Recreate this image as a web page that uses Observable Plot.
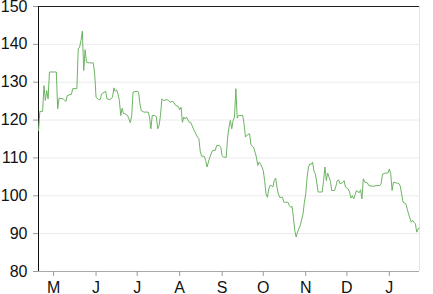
<!DOCTYPE html>
<html><head><meta charset="utf-8">
<script src="https://cdn.jsdelivr.net/npm/d3@7"></script>
<script src="https://cdn.jsdelivr.net/npm/@observablehq/plot@0.6"></script>
<style>body{margin:0;background:#fff}</style>
</head><body><div id="chart"></div>
<script>
const dates = [
"2014-04-20","2014-04-21","2014-04-23","2014-04-24","2014-04-25","2014-04-26","2014-04-27","2014-04-28",
"2014-05-02","2014-05-03","2014-05-04","2014-05-05","2014-05-08","2014-05-10","2014-05-11","2014-05-14",
"2014-05-15","2014-05-18","2014-05-19","2014-05-20","2014-05-21","2014-05-22","2014-05-23","2014-05-24",
"2014-05-25","2014-05-27","2014-05-30","2014-05-31","2014-06-01","2014-06-03","2014-06-04","2014-06-05",
"2014-06-08","2014-06-09","2014-06-11","2014-06-13","2014-06-14","2014-06-15","2014-06-16","2014-06-17",
"2014-06-18","2014-06-19","2014-06-20","2014-06-21","2014-06-22","2014-06-24","2014-06-25","2014-06-26",
"2014-06-27","2014-06-28","2014-07-01","2014-07-02","2014-07-03","2014-07-04","2014-07-06","2014-07-09",
"2014-07-10","2014-07-11","2014-07-12","2014-07-14","2014-07-15","2014-07-16","2014-07-17","2014-07-18",
"2014-07-19","2014-07-20","2014-07-23","2014-07-25","2014-07-27","2014-07-29","2014-07-31","2014-08-01",
"2014-08-02","2014-08-03","2014-08-04","2014-08-05","2014-08-06","2014-08-08","2014-08-09","2014-08-10",
"2014-08-11","2014-08-14","2014-08-15","2014-08-16","2014-08-17","2014-08-19","2014-08-20","2014-08-21",
"2014-08-22","2014-08-23","2014-08-25","2014-08-27","2014-08-28","2014-08-30","2014-08-31","2014-09-01",
"2014-09-02","2014-09-04","2014-09-05","2014-09-06","2014-09-07","2014-09-08","2014-09-09","2014-09-10",
"2014-09-11","2014-09-12","2014-09-13","2014-09-14","2014-09-16","2014-09-17","2014-09-18","2014-09-19",
"2014-09-21","2014-09-22","2014-09-24","2014-09-25","2014-09-26","2014-09-27","2014-09-28","2014-09-29",
"2014-09-30","2014-10-01","2014-10-02","2014-10-03","2014-10-04","2014-10-05","2014-10-06","2014-10-07",
"2014-10-08","2014-10-09","2014-10-10","2014-10-11","2014-10-12","2014-10-13","2014-10-15","2014-10-16",
"2014-10-17","2014-10-19","2014-10-20","2014-10-21","2014-10-22","2014-10-23","2014-10-24","2014-10-25",
"2014-10-26","2014-10-27","2014-10-28","2014-10-30","2014-10-31","2014-11-01","2014-11-02","2014-11-03",
"2014-11-04","2014-11-05","2014-11-06","2014-11-07","2014-11-08","2014-11-09","2014-11-10","2014-11-11",
"2014-11-13","2014-11-14","2014-11-15","2014-11-16","2014-11-17","2014-11-18","2014-11-19","2014-11-20",
"2014-11-22","2014-11-23","2014-11-24","2014-11-25","2014-11-26","2014-11-28","2014-11-29","2014-11-30",
"2014-12-02","2014-12-03","2014-12-04","2014-12-05","2014-12-06","2014-12-08","2014-12-10","2014-12-11",
"2014-12-12","2014-12-13","2014-12-14","2014-12-16","2014-12-17","2014-12-20","2014-12-23","2014-12-25",
"2014-12-26","2014-12-27","2014-12-29","2014-12-31","2015-01-01","2015-01-02","2015-01-03","2015-01-04",
"2015-01-07","2015-01-08","2015-01-09","2015-01-11","2015-01-13","2015-01-14","2015-01-15","2015-01-17",
"2015-01-18","2015-01-19","2015-01-20","2015-01-21","2015-01-22","2015-01-23"
];
const values = [
117.2,122.3,122.3,129.1,125.2,127.8,125.6,132.7,
132.7,132.7,123.0,125.8,125.6,124.9,126.5,126.8,
128.3,128.3,138.8,139.3,141.0,143.5,133.1,138.6,
135.3,135.1,135.1,132.2,126.0,125.4,125.4,126.9,
127.6,125.6,125.4,126.0,128.5,127.6,128.0,126.9,
125.2,121.2,123.1,121.7,121.7,121.2,120.3,119.3,
121.2,127.4,127.6,127.4,124.3,122.5,122.1,122.1,
120.8,117.7,121.2,121.2,120.8,117.7,118.6,121.2,
125.6,125.2,125.4,124.7,125.0,123.9,123.6,122.7,
123.4,119.4,120.8,120.3,120.8,119.4,119.4,118.6,
117.7,115.5,115.1,111.8,110.5,110.4,109.3,107.6,
108.9,110.2,112.0,112.0,113.3,113.3,112.8,110.6,
110.2,110.2,115.5,118.1,119.9,117.7,119.9,120.8,
128.3,120.5,121.2,121.2,121.2,119.0,115.5,116.0,
116.4,113.5,112.8,111.5,110.2,108.0,108.9,108.4,
107.6,106.7,104.0,100.5,99.6,101.8,102.7,102.7,
102.3,104.0,104.7,102.3,100.5,99.6,99.6,98.3,
98.3,98.3,97.4,97.0,97.2,94.3,90.8,89.1,
90.4,91.3,92.2,95.2,98.3,100.5,104.9,107.6,
108.4,108.3,108.9,106.5,105.8,103.6,101.0,101.0,
101.0,104.0,107.6,104.0,106.0,104.9,103.8,101.4,
101.4,102.5,104.0,104.2,103.2,103.5,104.0,102.3,
101.8,101.0,99.4,100.0,99.2,101.4,100.8,101.6,
99.2,104.5,103.6,103.4,102.7,102.5,102.7,102.7,
103.2,105.7,106.0,106.0,107.1,105.8,101.4,103.6,
103.3,103.2,102.5,98.3,97.9,96.6,95.2,93.0,
93.5,93.0,92.6,90.4,91.3,91.5
];
const yTicks = [80, 90, 100, 110, 120, 130, 140, 150];
const gridValues = [90, 100, 110, 120, 130, 140];

const data = dates.map((d, i) => ({date: new Date(d), value: values[i]}));
const x0 = data[0].date, x1 = data[data.length - 1].date;
const monthLetter = d => d3.utcFormat("%b")(d)[0];

const chart = Plot.plot({
  width: 433, height: 294,
  marginLeft: 38, marginRight: 14, marginTop: 6, marginBottom: 23,
  style: {fontFamily: "'Liberation Sans', Arial, sans-serif", fontSize: "16px", color: "#111", background: "#fff"},
  x: {type: "utc", domain: [x0, x1]},
  y: {domain: [80, 150]},
  marks: [
    Plot.ruleY(gridValues, {stroke: "#ebebeb"}),
    Plot.ruleX([x1], {stroke: "#e4e4e4"}),
    Plot.ruleY([80], {stroke: "#aaa"}),
    Plot.ruleY([150], {stroke: "#222"}),
    Plot.ruleX([x0], {stroke: "#111"}),
    Plot.axisY({ticks: yTicks, tickSize: 5, tickPadding: 6, stroke: "#999", label: null}),
    Plot.axisX({ticks: d3.utcMonth.every(1), tickFormat: monthLetter, tickSize: 5, tickPadding: 5, stroke: "#999", label: null}),
    Plot.line(data, {x: "date", y: "value", stroke: "#6cb463", strokeWidth: 1})
  ]
});
document.getElementById("chart").append(chart);
</script>
</body></html>
